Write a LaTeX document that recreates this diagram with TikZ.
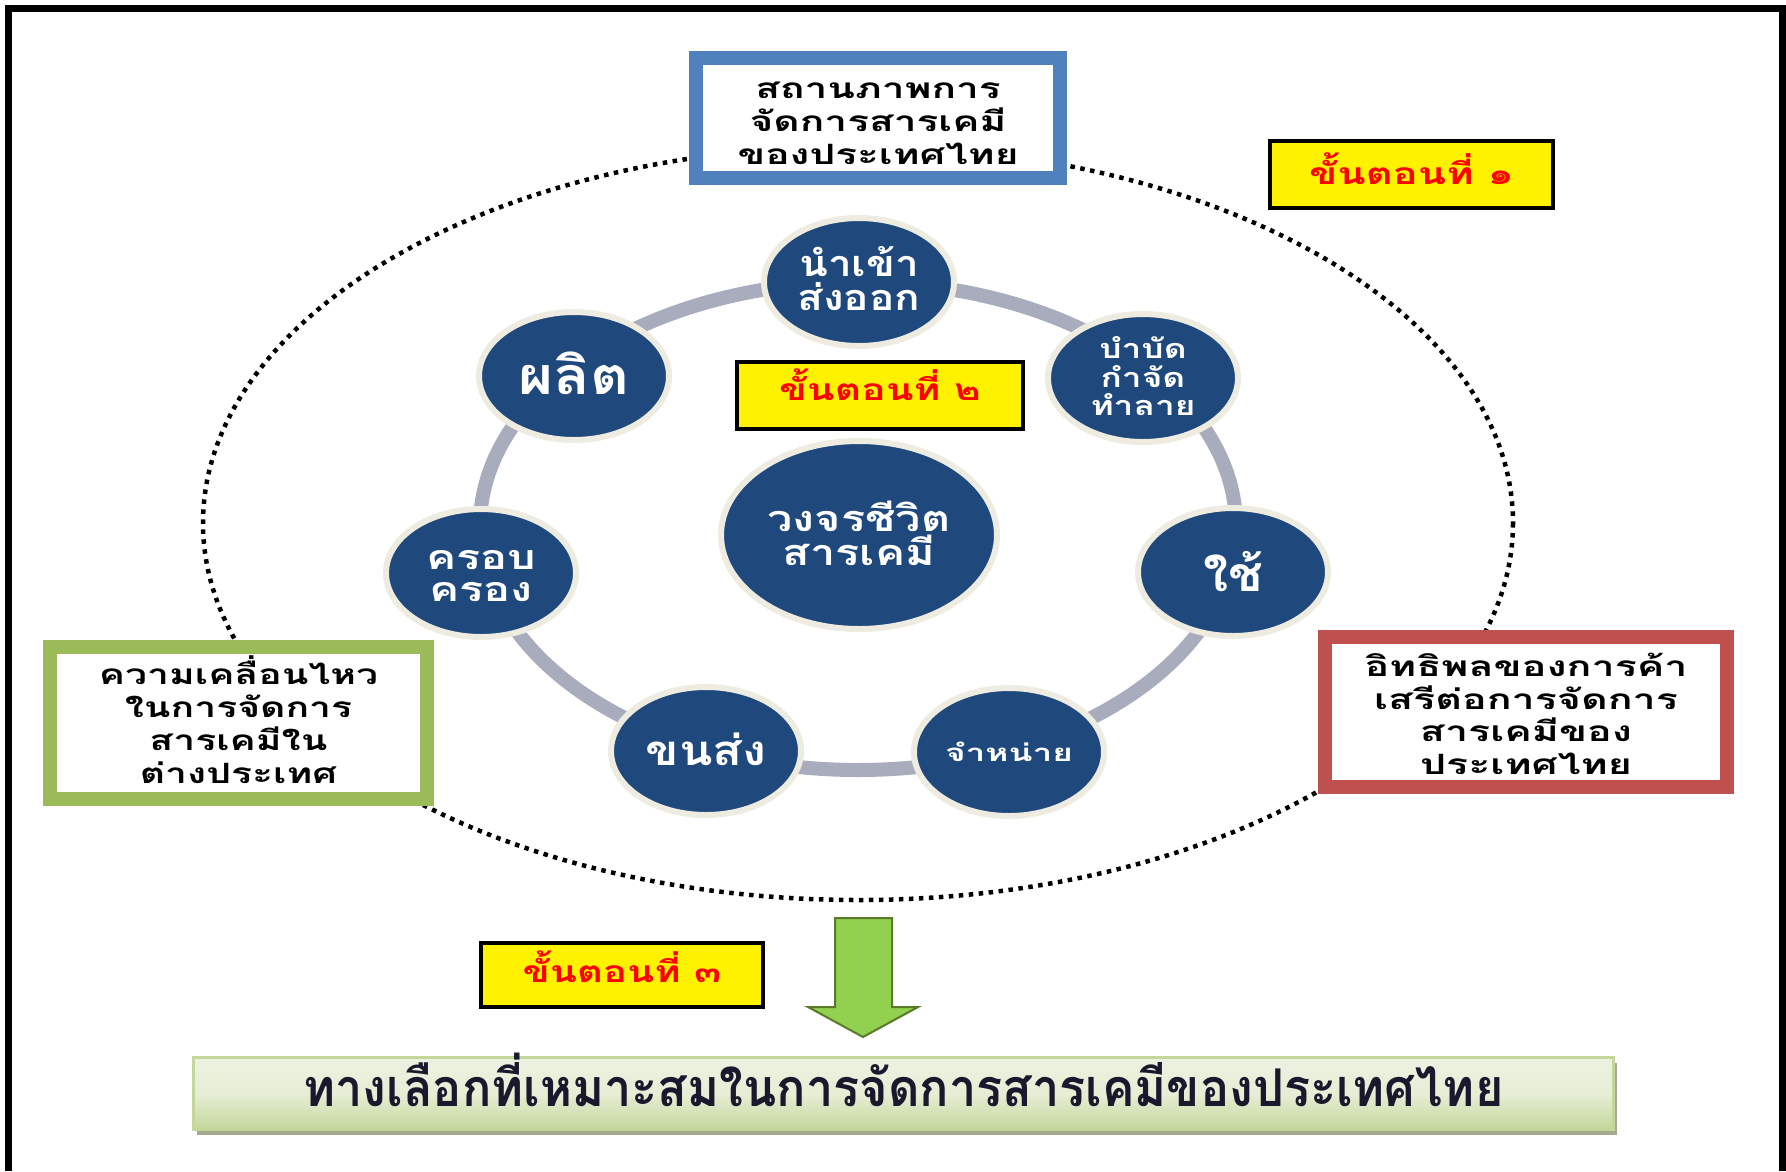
\documentclass[tikz,border=0pt]{standalone}
\usepackage{fontspec}
\usepackage{graphicx}
\newfontfamily\thai[Script=Thai]{Loma}
\usetikzlibrary{shapes.geometric,shadows}
\definecolor{navy}{RGB}{31,73,125}
\definecolor{ringc}{RGB}{238,236,225}
\definecolor{linkc}{RGB}{168,172,188}
\definecolor{bluec}{RGB}{79,129,189}
\definecolor{redc}{RGB}{192,80,77}
\definecolor{greenc}{RGB}{155,187,89}
\definecolor{arrowc}{RGB}{146,208,80}
\definecolor{arrowd}{RGB}{90,122,42}
\definecolor{barlight}{RGB}{236,242,224}
\definecolor{bardark}{RGB}{196,215,155}
\definecolor{shadowc}{RGB}{165,170,142}
\definecolor{bartext}{RGB}{25,25,45}
\newcommand\fw[2]{\resizebox{#1pt}{\height}{#2}}
\newcommand\lines[1]{\vbox{\lineskiplimit=-\maxdimen\lineskip=0pt\halign{\hfil##\hfil\cr#1\crcr}}}
\begin{document}
\begin{tikzpicture}[x=1pt,y=-1pt,
  cyc/.style={ellipse, draw=ringc, line width=6pt, fill=navy,
    minimum width=190pt, minimum height=128pt, inner sep=0pt},
  bigcyc/.style={cyc, minimum width=276pt, minimum height=188pt},
  cyctext/.style={inner sep=0pt, text=white},
  framebox/.style={rectangle, fill=white, line width=14pt, inner sep=0pt},
  frametext/.style={inner sep=0pt, text=black, font=\thai\bfseries\fontsize{28}{33}\selectfont},
  stepbox/.style={rectangle, fill=yellow, draw=black, line width=4pt,
    minimum width=283pt, minimum height=67pt, inner sep=0pt},
  steptext/.style={inner sep=0pt, text=red, font=\thai\bfseries\fontsize{30}{33}\selectfont},
  dotline/.style={draw=black, line width=4.5pt, dash pattern=on 4.5pt off 5.5pt},
  linkline/.style={draw=linkc, line width=14pt},
  arrowst/.style={fill=arrowc, draw=arrowd, line width=2pt, line join=miter}
]
\useasboundingbox (0,0) rectangle (1786,1171);
\fill[white] (0,0) rectangle (1786,1171);
% outer frame
\draw[line width=7pt] (8.5,1171) -- (8.5,8.5) -- (1782.5,8.5) -- (1782.5,1171);

% dotted outer ellipse
\draw[dotline] (858,523) ellipse [x radius=655, y radius=377];

% gray ring linking the cycle
\draw[linkline] (858,526) ellipse [x radius=378, y radius=244];

% cycle nodes
\node[cyc] (imp) at (859,282) {};
\node[cyc] (prod) at (574,376) {};
\node[cyc] (treat) at (1143,378) {};
\node[cyc] (own) at (481,573) {};
\node[cyc] (use) at (1233,572) {};
\node[cyc] (trans) at (706,751) {};
\node[cyc] (sell) at (1009,752) {};
\node[bigcyc] (life) at (859,535) {};

\node[cyctext, font=\thai\bfseries\fontsize{36}{34}\selectfont] (imp-t) at (859,279) {\fw{123}{\lines{นำเข้า\cr ส่งออก}}};
\node[cyctext, font=\thai\bfseries\fontsize{52}{40}\selectfont] (prod-t) at (574,373) {\fw{111}{ผลิต}};
\node[cyctext, font=\thai\bfseries\fontsize{27}{28.5}\selectfont] (treat-t) at (1143,376.5) {\fw{105}{\lines{บำบัด\cr กำจัด\cr ทำลาย}}};
\node[cyctext, font=\thai\bfseries\fontsize{34}{32}\selectfont] (own-t) at (481,576) {\fw{110}{\lines{ครอบ\cr ครอง}}};
\node[cyctext, font=\thai\bfseries\fontsize{48}{40}\selectfont] (use-t) at (1233,572) {\fw{60}{ใช้}};
\node[cyctext, font=\thai\bfseries\fontsize{42}{40}\selectfont] (trans-t) at (706,749) {\fw{121}{ขนส่ง}};
\node[cyctext, font=\thai\bfseries\fontsize{24}{30}\selectfont] (sell-t) at (1009,752) {\fw{128}{จำหน่าย}};
\node[cyctext, font=\thai\bfseries\fontsize{36}{34}\selectfont] (life-t) at (859,533) {\fw{183}{\lines{วงจรชีวิต\cr สารเคมี}}};

% framed boxes
\node[framebox, draw=bluec, minimum width=364pt, minimum height=120pt] (status) at (878,118) {};
\node[framebox, draw=redc, minimum width=402pt, minimum height=150pt] (trade) at (1526,712) {};
\node[framebox, draw=greenc, minimum width=377pt, minimum height=152pt] (abroad) at (238.5,723) {};
\node[frametext] (status-t) at (878,123)
  {\fw{281}{\lines{สถานภาพการ\cr จัดการสารเคมี\cr ของประเทศไทย}}};
\node[frametext, font=\thai\bfseries\fontsize{28}{32.5}\selectfont] (trade-t) at (1526,714)
  {\fw{323}{\lines{อิทธิพลของการค้า\cr เสรีต่อการจัดการ\cr สารเคมีของ\cr ประเทศไทย}}};
\node[frametext] (abroad-t) at (238.5,720)
  {\fw{279}{\lines{ความเคลื่อนไหว\cr ในการจัดการ\cr สารเคมีใน\cr ต่างประเทศ}}};

% step boxes
\node[stepbox] (s1) at (1411.5,174.5) {};
\node[stepbox, minimum width=286pt] (s2) at (880,395.5) {};
\node[stepbox, minimum width=282pt, minimum height=64pt] (s3) at (622,975) {};
\node[steptext] (s1-t) at (1411.5,168.5) {\fw{205}{ขั้นตอนที่ ๑}};
\node[steptext] (s2-t) at (880,384.5) {\fw{202}{ขั้นตอนที่ ๒}};
\node[steptext] (s3-t) at (622,967) {\fw{199}{ขั้นตอนที่ ๓}};

% down arrow
\draw[arrowst] (835,918) -- (892,918) -- (892,1007) -- (918,1007) -- (863,1037)
  -- (808,1007) -- (835,1007) -- cycle;

% result bar
\node[rectangle, draw=bardark, line width=3pt, top color=barlight, bottom color=bardark,
  middle color=barlight!85!bardark,
  general shadow={fill=shadowc, shadow xshift=3pt, shadow yshift=-5pt},
  minimum width=1420pt, minimum height=72pt, inner sep=0pt] (result) at (903.5,1093.5) {};
\node[inner sep=0pt, text=bartext, font=\thai\bfseries\fontsize{52}{52}\selectfont] (result-t) at (903.5,1079.5)
  {\fw{1200}{ทางเลือกที่เหมาะสมในการจัดการสารเคมีของประเทศไทย}};
\end{tikzpicture}
\end{document}
